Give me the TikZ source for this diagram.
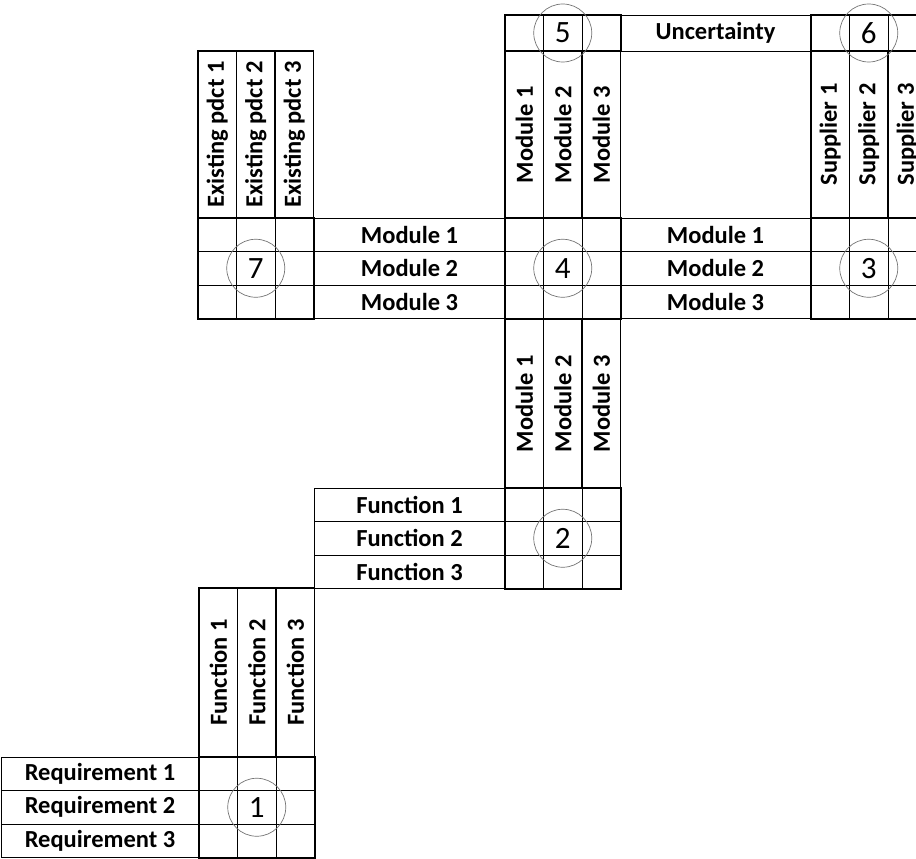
\documentclass[tikz,border=0pt]{standalone}
\usepackage{fontspec}
\setmainfont{Carlito}

\begin{document}
\begin{tikzpicture}[x=1pt, y=-1pt]
        % ================= styles =================
        \tikzset{
            % row / column labels: bold
            lbl/.style={font=\fontsize{24.5}{28}\selectfont\bfseries, inner sep=0pt},
            vlbl/.style={lbl, rotate=90},
            % numbered circle on the middle cell
            num/.style={circle, draw=black!55, line width=0.7pt, minimum size=58pt, inner sep=0pt, font=\fontsize{31}{31}\selectfont},
            % lines
            frame/.style={line width=2pt},
            cell/.style={line width=0.9pt},
            hcol/.style={line width=1.3pt}
        }
        \useasboundingbox (0,0) rectangle (916,859);

        % ================= 1. row label boxes =================
        % x left / x right / y top / name / text
        \foreach \xa/\xb/\ya/\nm/\txt in {1/199/757/r/Requirement, 314/505/488/f/Function, 314/505/218/ml/Module, 620/811/218/mr/Module}{
            \draw[cell] (\xa,\ya) rectangle (\xb,{\ya+100.5});
            \draw[cell] (\xa,{\ya+33.5}) -- (\xb,{\ya+33.5});
            \draw[cell] (\xa,{\ya+67}) -- (\xb,{\ya+67});
            \foreach \i in {1,2,3}
                \node[lbl] (\nm\i) at ({(\xa+\xb)/2}, {\ya+33.5*\i-16.75}) {\txt\ \i};
        }

        % ================= 2. column header boxes =================
        % x left / y top / y bottom / name / text
        \foreach \xa/\ya/\yb/\nm/\txt in {198/51/218/e/Existing pdct, 505/51/218/mt/Module, 811/51/218/s/Supplier, 505/319/488/mb/Module, 199/588/757/fc/Function}{
            \foreach \i in {1,2,3}{
                \draw[hcol] ({\xa+38.5*\i-38.5},\yb) -- ({\xa+38.5*\i-38.5},\ya) -- ({\xa+38.5*\i},\ya) -- ({\xa+38.5*\i},\yb);
                \node[vlbl] (\nm\i) at ({\xa+38.5*\i-19.25}, {(\ya+\yb)/2}) {\txt\ \i};
            }
        }

        % ================= 3. top row =================
        \node[lbl, draw, line width=0.9pt, minimum width=191pt, minimum height=36pt] (unc) at (715.5,33) {Uncertainty};
        \foreach \xa/\n in {505/5, 811/6}{
            \draw[cell] ({\xa+38.5},15) -- ({\xa+38.5},51);
            \draw[cell] ({\xa+77},15) -- ({\xa+77},51);
            \draw[frame] (\xa,15) rectangle ({\xa+115.5},51);
            \node[num] (c\n) at ({\xa+57.75},33) {\n};
        }

        % ================= 4. matrices =================
        % x left / y top / number
        \foreach \xa/\ya/\n in {199/757/1, 505/488/2, 811/218/3, 505/218/4, 198/218/7}{
            \foreach \k in {1,2}{
                \draw[cell] ({\xa+38.5*\k},\ya) -- ({\xa+38.5*\k},{\ya+100.5});
                \draw[cell] (\xa,{\ya+33.5*\k}) -- ({\xa+115.5},{\ya+33.5*\k});
            }
            \draw[frame] (\xa,\ya) rectangle ({\xa+115.5},{\ya+100.5});
            \node[num] (c\n) at ({\xa+57.75},{\ya+50.25}) {\n};
        }

    \end{tikzpicture}
\end{document}
